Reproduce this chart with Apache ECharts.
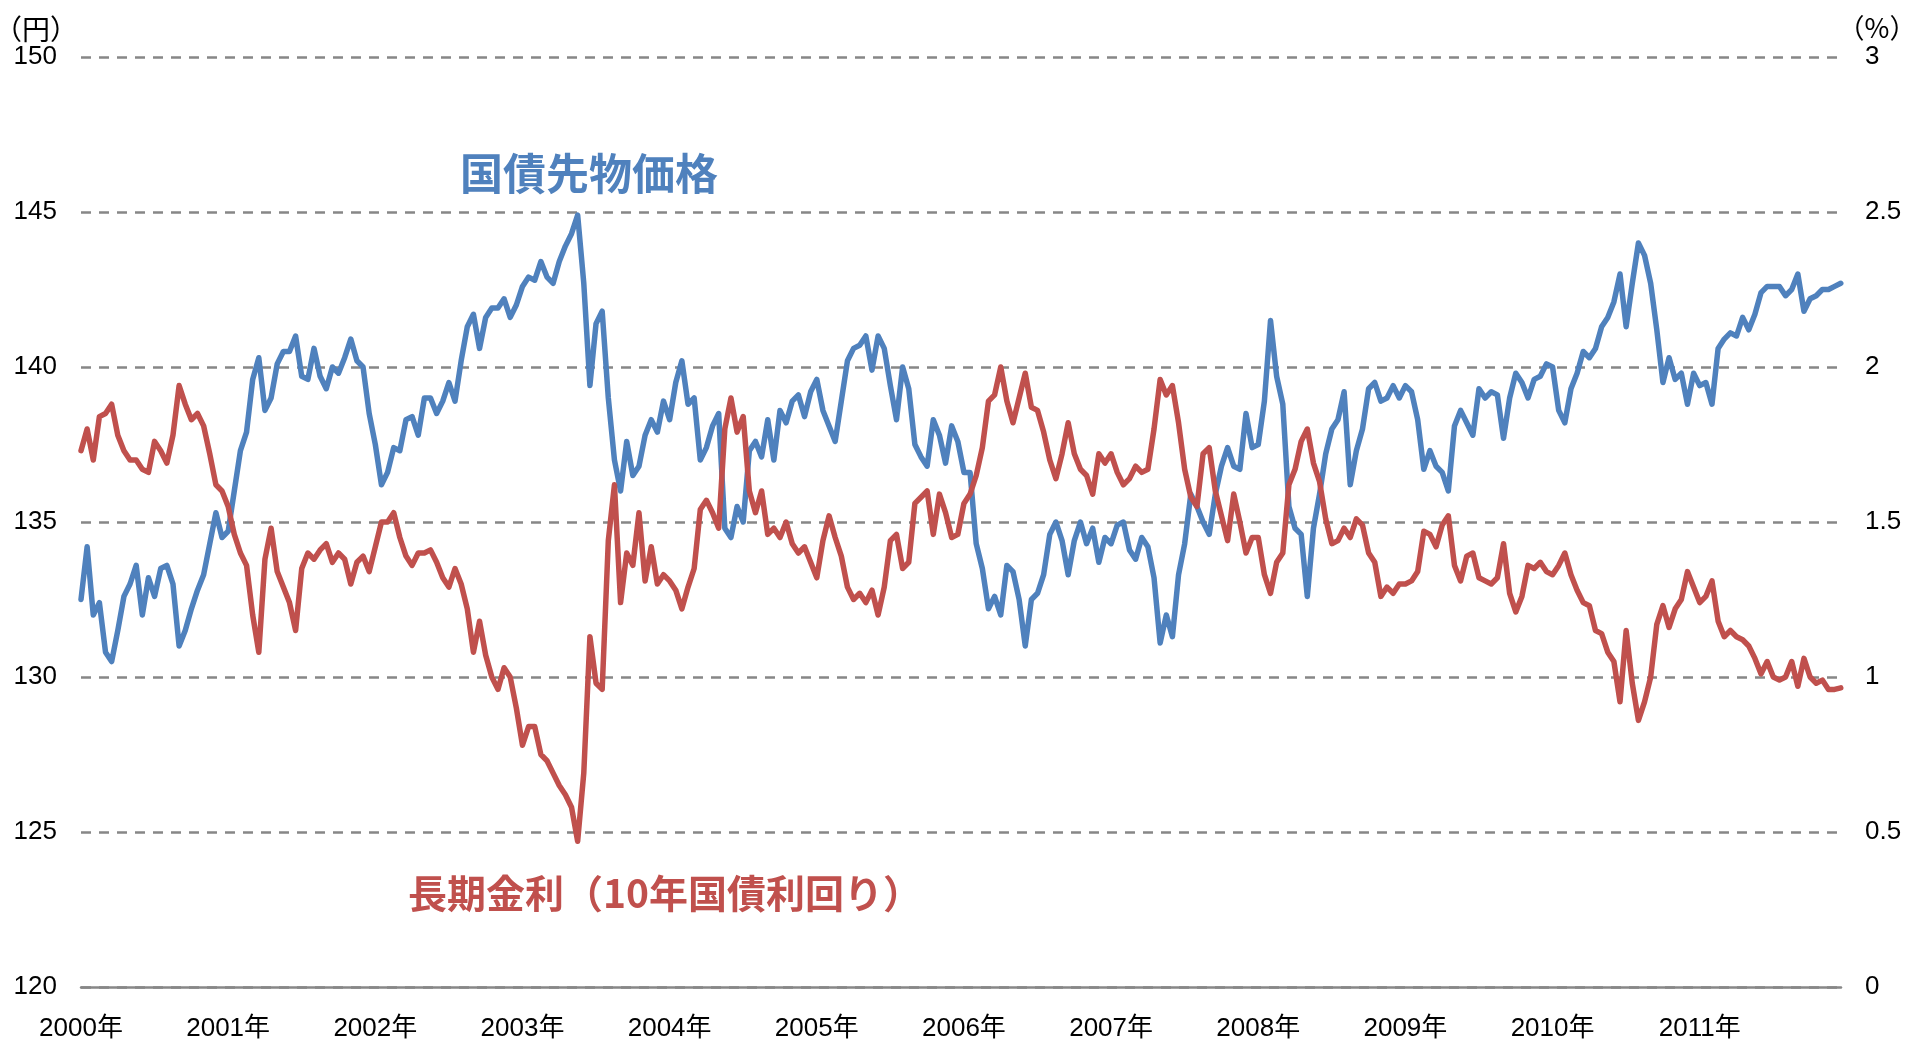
<!DOCTYPE html>
<html><head><meta charset="utf-8">
<script src="https://cdn.jsdelivr.net/npm/echarts@6/dist/echarts.min.js"></script>
<style>html,body{margin:0;padding:0;background:#fff}#c{width:1906px;height:1043px}</style>
</head><body><div id="c"></div>
<script>
// Tick labels
const yearLabels = ['2000年','2001年','2002年','2003年','2004年','2005年','2006年','2007年','2008年','2009年','2010年','2011年'];
const startYear = 2000;
const pointsPerYear = 24; // semi-monthly readings

// 国債先物価格 (円), semi-monthly, 2000–2011
const futuresPrice = [
  132.5,134.2,132.0,132.4,130.8,130.5,131.5,132.6,133.0,133.6,132.0,133.2,132.6,133.5,133.6,133.0,131.0,131.5,132.2,132.8,133.3,134.3,135.3,134.5,
  134.7,136.0,137.3,137.9,139.6,140.3,138.6,139.0,140.1,140.5,140.5,141.0,139.7,139.6,140.6,139.7,139.3,140.0,139.8,140.3,140.9,140.2,140.0,138.5,
  137.5,136.2,136.6,137.4,137.3,138.3,138.4,137.8,139.0,139.0,138.5,138.9,139.5,138.9,140.2,141.3,141.7,140.6,141.6,141.9,141.9,142.2,141.6,142.0,
  142.6,142.9,142.8,143.4,142.9,142.7,143.4,143.9,144.3,144.9,142.7,139.4,141.4,141.8,139.0,137.0,136.0,137.6,136.5,136.8,137.8,138.3,137.9,138.9,
  138.3,139.5,140.2,138.8,139.0,137.0,137.4,138.1,138.5,134.8,134.5,135.5,135.0,137.3,137.6,137.1,138.3,137.0,138.6,138.2,138.9,139.1,138.4,139.2,
  139.6,138.6,138.1,137.6,138.9,140.2,140.6,140.7,141.0,139.9,141.0,140.6,139.4,138.3,140.0,139.3,137.5,137.1,136.8,138.3,137.8,136.9,138.1,137.6,
  136.6,136.6,134.3,133.5,132.2,132.6,132.0,133.6,133.4,132.5,131.0,132.5,132.7,133.3,134.6,135.0,134.4,133.3,134.4,135.0,134.3,134.8,133.7,134.5,
  134.3,134.9,135.0,134.1,133.8,134.5,134.2,133.2,131.1,132.0,131.3,133.3,134.3,135.9,135.5,135.0,134.6,135.9,136.8,137.4,136.8,136.7,138.5,137.4,
  137.5,138.9,141.5,139.7,138.8,135.5,134.8,134.6,132.6,134.8,135.9,137.2,138.0,138.3,139.2,136.2,137.3,138.0,139.3,139.5,138.9,139.0,139.4,139.0,
  139.4,139.2,138.3,136.7,137.3,136.8,136.6,136.0,138.1,138.6,138.2,137.8,139.3,139.0,139.2,139.1,137.7,139.0,139.8,139.5,139.0,139.6,139.7,140.1,
  140.0,138.6,138.2,139.3,139.8,140.5,140.3,140.6,141.3,141.6,142.1,143.0,141.3,142.7,144.0,143.6,142.7,141.2,139.5,140.3,139.6,139.8,138.8,139.8,
  139.4,139.5,138.8,140.6,140.9,141.1,141.0,141.6,141.2,141.7,142.4,142.6,142.6,142.6,142.3,142.5,143.0,141.8,142.2,142.3,142.5,142.5,142.6,142.7
];

// 長期金利 (10年国債利回り, %), semi-monthly, 2000–2011
const jgbYield = [
  1.73,1.80,1.70,1.84,1.85,1.88,1.78,1.73,1.70,1.70,1.67,1.66,1.76,1.73,1.69,1.78,1.94,1.88,1.83,1.85,1.81,1.72,1.62,1.60,
  1.55,1.46,1.40,1.36,1.20,1.08,1.38,1.48,1.34,1.29,1.24,1.15,1.35,1.40,1.38,1.41,1.43,1.37,1.40,1.38,1.30,1.37,1.39,1.34,
  1.42,1.50,1.50,1.53,1.45,1.39,1.36,1.40,1.40,1.41,1.37,1.32,1.29,1.35,1.30,1.22,1.08,1.18,1.07,1.00,0.96,1.03,1.00,0.90,
  0.78,0.84,0.84,0.75,0.73,0.69,0.65,0.62,0.58,0.47,0.69,1.13,0.98,0.96,1.44,1.62,1.24,1.40,1.36,1.53,1.31,1.42,1.30,1.33,
  1.31,1.28,1.22,1.29,1.35,1.54,1.57,1.53,1.48,1.80,1.90,1.79,1.84,1.60,1.53,1.60,1.46,1.48,1.45,1.50,1.43,1.40,1.42,1.37,
  1.32,1.44,1.52,1.45,1.39,1.29,1.25,1.27,1.24,1.28,1.20,1.29,1.44,1.46,1.35,1.37,1.56,1.58,1.60,1.46,1.59,1.53,1.45,1.46,
  1.56,1.59,1.65,1.74,1.89,1.91,2.00,1.89,1.82,1.90,1.98,1.87,1.86,1.79,1.70,1.64,1.72,1.82,1.72,1.67,1.65,1.59,1.72,1.69,
  1.72,1.66,1.62,1.64,1.68,1.66,1.67,1.80,1.96,1.91,1.94,1.82,1.67,1.58,1.55,1.72,1.74,1.60,1.52,1.44,1.59,1.50,1.40,1.45,
  1.45,1.33,1.27,1.37,1.40,1.62,1.67,1.76,1.80,1.69,1.63,1.51,1.43,1.44,1.48,1.45,1.51,1.49,1.40,1.37,1.26,1.29,1.27,1.30,
  1.30,1.31,1.34,1.47,1.46,1.42,1.49,1.52,1.36,1.31,1.39,1.40,1.32,1.31,1.30,1.32,1.43,1.27,1.21,1.26,1.36,1.35,1.37,1.34,
  1.33,1.36,1.40,1.33,1.28,1.24,1.23,1.15,1.14,1.08,1.05,0.92,1.15,0.98,0.86,0.92,1.00,1.17,1.23,1.16,1.22,1.25,1.34,1.29,
  1.24,1.26,1.31,1.18,1.13,1.15,1.13,1.12,1.10,1.06,1.01,1.05,1.00,0.99,1.00,1.05,0.97,1.06,1.00,0.98,0.99,0.96,0.96,0.965
];

const seriesNames = ['国債先物価格', '長期金利（10年国債利回り）'];
const unitLeft = '（円）';
const unitRight = '（%）';

const toXY = arr => arr.map((v, i) => [startYear + i / pointsPerYear, v]);
const FONT = '"Liberation Sans", Arial, "Noto Sans CJK JP", sans-serif';
const CJK = '"Noto Sans CJK JP", sans-serif';
const BLUE = '#4F81BD', RED = '#C0504D', GRID = '#878787';

const chart = echarts.init(document.getElementById('c'), null, {renderer: 'canvas'});
chart.setOption({
  animation: false,
  backgroundColor: '#fff',
  grid: {left: 81, right: 65, top: 57, bottom: 56},
  xAxis: {
    type: 'value', min: 2000, max: 2011.96, interval: 1,
    axisLine: {show: true, onZero: false, lineStyle: {color: GRID, width: 2.5}},
    axisTick: {show: false},
    splitLine: {show: false},
    axisLabel: {
      fontSize: 26, fontFamily: FONT, color: '#000', margin: 29,
      formatter: v => (Math.abs(v - Math.round(v)) < 1e-6 && yearLabels[Math.round(v) - startYear]) ? yearLabels[Math.round(v) - startYear] : ''
    }
  },
  yAxis: [
    {
      type: 'value', min: 120, max: 150, interval: 5, position: 'left',
      axisLine: {show: false}, axisTick: {show: false},
      splitLine: {show: true, lineStyle: {color: GRID, width: 2.5, type: [10, 8]}},
      axisLabel: {fontSize: 26, fontFamily: FONT, color: '#000', margin: 24}
    },
    {
      type: 'value', min: 0, max: 3, interval: 0.5, position: 'right',
      axisLine: {show: false}, axisTick: {show: false},
      splitLine: {show: false},
      axisLabel: {fontSize: 26, fontFamily: FONT, color: '#000', margin: 24}
    }
  ],
  series: [
    {
      name: seriesNames[0], type: 'line', yAxisIndex: 0, data: toXY(futuresPrice),
      showSymbol: false, symbol: 'none', z: 2,
      lineStyle: {color: BLUE, width: 5.5, join: 'round', cap: 'round'}, itemStyle: {color: BLUE}
    },
    {
      name: seriesNames[1], type: 'line', yAxisIndex: 1, data: toXY(jgbYield),
      showSymbol: false, symbol: 'none', z: 3,
      lineStyle: {color: RED, width: 5.5, join: 'round', cap: 'round'}, itemStyle: {color: RED}
    }
  ],
  graphic: [
    {type: 'text', x: 36, y: 29, style: {text: unitLeft, font: '28px ' + CJK, fill: '#000', align: 'center', verticalAlign: 'middle', textAlign: 'center', textVerticalAlign: 'middle'}},
    {type: 'text', x: 1877, y: 28, style: {text: unitRight, font: '27px ' + CJK, fill: '#000', align: 'center', verticalAlign: 'middle', textAlign: 'center', textVerticalAlign: 'middle'}},
    {type: 'text', x: 460, y: 174, style: {text: seriesNames[0], font: 'bold 43px ' + CJK, fill: BLUE, align: 'left', verticalAlign: 'middle', textAlign: 'left', textVerticalAlign: 'middle'}},
    {type: 'text', x: 408, y: 893, style: {text: seriesNames[1], font: 'bold 39px ' + CJK, fill: RED, align: 'left', verticalAlign: 'middle', textAlign: 'left', textVerticalAlign: 'middle'}}
  ]
});
</script>
</body></html>
